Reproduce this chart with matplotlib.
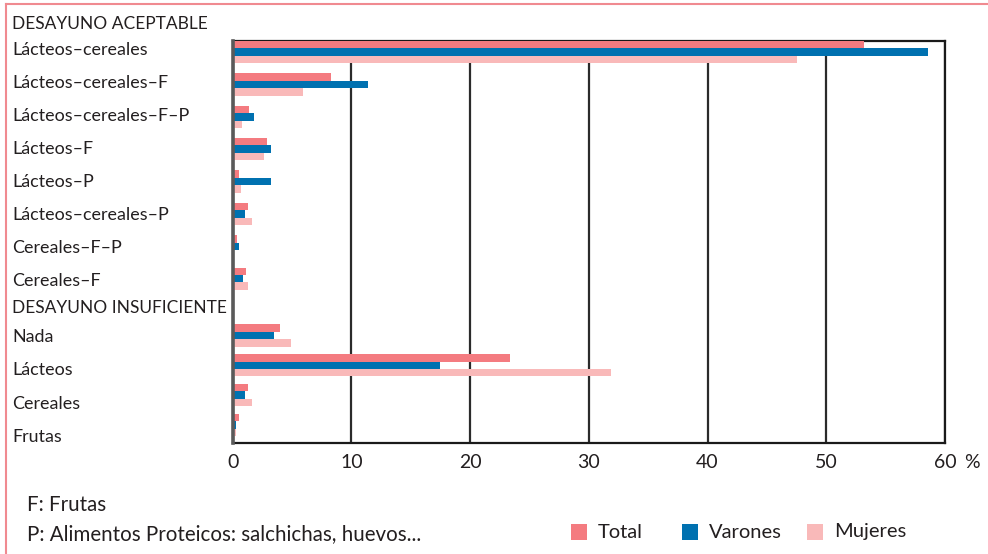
import matplotlib

matplotlib.use("Agg")

import matplotlib.pyplot as plt
import numpy as np
from matplotlib.lines import Line2D
from matplotlib.patches import Rectangle

plt.rcParams["font.family"] = ["Lato", "DejaVu Sans"]

# data (percent)
header_aceptable = "DESAYUNO ACEPTABLE"
header_insuficiente = "DESAYUNO INSUFICIENTE"
categories_aceptable = [
    "Lácteos–cereales",
    "Lácteos–cereales–F",
    "Lácteos–cereales–F–P",
    "Lácteos–F",
    "Lácteos–P",
    "Lácteos–cereales–P",
    "Cereales–F–P",
    "Cereales–F",
]
categories_insuficiente = ["Nada", "Lácteos", "Cereales", "Frutas"]

total = [53.2, 8.3, 1.4, 2.9, 0.5, 1.3, 0.4, 1.1, 4.0, 23.4, 1.3, 0.5]
varones = [58.6, 11.4, 1.8, 3.2, 3.2, 1.0, 0.5, 0.9, 3.5, 17.5, 1.0, 0.3]
mujeres = [47.5, 5.9, 0.8, 2.6, 0.7, 1.6, 0.0, 1.3, 4.9, 31.9, 1.6, 0.3]

series_names = ["Total", "Varones", "Mujeres"]
x_ticks = [0, 10, 20, 30, 40, 50, 60]
footnotes = ["F: Frutas", "P: Alimentos Proteicos: salchichas, huevos..."]

colors = ["#f47b80", "#0071b0", "#f9b9b9"]
text_color = "#231f20"
W, H = 988, 554


def fx(px):
    return px / W


def fy(py):
    return 1 - py / H


fig = plt.figure(figsize=(W / 100, H / 100), dpi=100)
ax = fig.add_axes([fx(232.7), fy(443), (945 - 232.7) / W, (443 - 41) / H])

# bar group centers: upper block evenly spaced, lower block slightly tighter
pos_top = np.arange(len(categories_aceptable), dtype=float)
pos_bottom = 8.75 + 0.92 * np.arange(len(categories_insuficiente))
positions = np.concatenate([pos_top, pos_bottom])

bar_h = 0.23
for offset, values, color, name in zip([-1, 0, 1], [total, varones, mujeres], colors, series_names):
    ax.barh(positions + offset * bar_h, values, height=bar_h, color=color,
            label=name, zorder=3, linewidth=0)

ax.set_xlim(0, 60)
ax.set_ylim(12.07, -0.34)
ax.set_xticks(x_ticks)
ax.set_xticklabels([str(t) for t in x_ticks], fontsize=14, color=text_color)
ax.tick_params(axis="x", length=0, pad=8)
ax.set_yticks([])
ax.grid(axis="x", color="#2b2b2b", linewidth=1.6, zorder=0)

for side in ["top", "right", "bottom"]:
    ax.spines[side].set_color("#1a1a1a")
    ax.spines[side].set_linewidth(1.6)
ax.spines["left"].set_color("#5a5a5a")
ax.spines["left"].set_linewidth(2.6)
ax.spines["left"].set_zorder(4)

fig.text(fx(964), fy(462), "%", fontsize=14, color=text_color, va="center")

# row labels on the left
fig.text(fx(12), fy(24), header_aceptable, fontsize=12.5, color=text_color, va="center")
fig.text(fx(12), fy(308), header_insuficiente, fontsize=12.5, color=text_color, va="center")
for i, name in enumerate(categories_aceptable):
    fig.text(fx(12), fy(50 + 33 * i), name, fontsize=12.9, color=text_color, va="center")
for i, name in enumerate(categories_insuficiente):
    fig.text(fx(12), fy(337 + 33.3 * i), name, fontsize=12.9, color=text_color, va="center")

for i, note in enumerate(footnotes):
    fig.text(fx(27), fy(505 + 29 * i), note, fontsize=14.8, color=text_color, va="center")

# legend drawn by hand to keep the uneven spacing of the original
legend_x = [571, 682, 807]
for px, name, color in zip(legend_x, series_names, colors):
    fig.add_artist(Rectangle((fx(px), fy(540)), 16 / W, 16 / H, color=color,
                             transform=fig.transFigure, linewidth=0))
    fig.text(fx(px + 27), fy(532), name, fontsize=14.5, color=text_color, va="center")

# pink frame lines (top and left)
frame_color = "#f08a90"
fig.add_artist(Line2D([fx(5.5), 1], [fy(3.5), fy(3.5)], color=frame_color, linewidth=1.5))
fig.add_artist(Line2D([fx(5.5), fx(5.5)], [fy(3.5), 0], color=frame_color, linewidth=1.5))

fig.savefig("out.png", dpi=100)
plt.close(fig)
